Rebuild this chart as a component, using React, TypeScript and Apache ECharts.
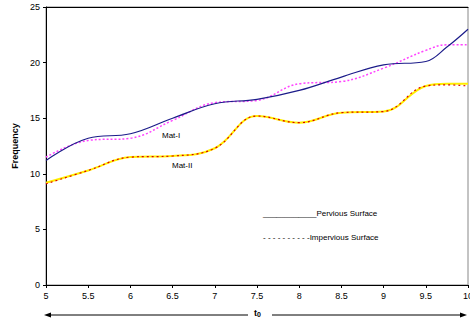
import React, { useEffect, useRef } from "react";
import * as echarts from "echarts";

const xs = [5, 5.5, 6, 6.5, 7, 7.5, 8, 8.5, 9, 9.5, 9.75, 10];
const matIPervious = [11.2, 13.2, 13.6, 15.0, 16.3, 16.7, 17.5, 18.7, 19.8, 20.1, 21.4, 23.0];
const matIImpervious = [11.5, 13.0, 13.2, 14.8, 16.4, 16.6, 18.1, 18.3, 19.5, 21.1, 21.6, 21.6];
const matIIPervious = [9.2, 10.3, 11.5, 11.6, 12.3, 15.2, 14.6, 15.5, 15.6, 17.9, 18.1, 18.1];
const matIIImpervious = [9.1, 10.3, 11.5, 11.6, 12.3, 15.2, 14.6, 15.5, 15.6, 17.9, 18.0, 17.9];
const xTicks = [5, 5.5, 6, 6.5, 7, 7.5, 8, 8.5, 9, 9.5, 10];

const pairs = (ys: number[]) => xs.map((x, i) => [x, ys[i]]);

export default function App() {
  const ref = useRef<HTMLDivElement>(null);
  useEffect(() => {
    const chart = echarts.init(ref.current!, null, { renderer: "svg" });
    const font = "Liberation Sans, Arial, sans-serif";
    chart.setOption({
      animation: false,
      grid: { left: 46, right: 2, top: 7, bottom: 37, show: true, borderColor: "#888", borderWidth: 1, outerBoundsMode: "none", containLabel: false },
      xAxis: [
        {
          type: "value", min: 5, max: 10, interval: 0.5,
          axisLine: { lineStyle: { color: "#000", width: 1 } },
          axisTick: { show: true, length: 3, lineStyle: { color: "#000" } },
          axisLabel: { color: "#000", fontSize: 9, fontFamily: font, margin: 6,
            formatter: (v: number) => (xTicks.includes(v) ? String(v) : "") },
          splitLine: { show: false },
        },
        {
          type: "value", min: 5, max: 10, position: "top",
          axisLine: { show: true, lineStyle: { color: "#000", width: 1 } },
          axisTick: { show: false }, axisLabel: { show: false }, splitLine: { show: false },
        },
      ],
      yAxis: {
        type: "value", min: 0, max: 25, interval: 5,
        name: "Frequency", nameLocation: "middle", nameGap: 22, nameRotate: 90,
        nameTextStyle: { fontSize: 9, fontWeight: "bold", fontFamily: font, color: "#000" },
        axisLine: { show: true, lineStyle: { color: "#000", width: 1 } },
        axisTick: { show: true, length: 3, lineStyle: { color: "#000" } },
        axisLabel: { color: "#000", fontSize: 9, fontFamily: font, margin: 6 },
        splitLine: { show: false },
      },
      series: [
        { type: "line", data: pairs(matIIPervious), smooth: 0.4, showSymbol: false,
          lineStyle: { color: "#ffee00", width: 2 }, z: 2 },
        { type: "line", data: pairs(matIIImpervious), smooth: 0.4, showSymbol: false,
          lineStyle: { color: "#dd0000", width: 1.2, type: [2, 3] }, z: 3 },
        { type: "line", data: pairs(matIImpervious), smooth: 0.4, showSymbol: false,
          lineStyle: { color: "#ff44ff", width: 1.5, type: [2, 2] }, z: 2 },
        { type: "line", data: pairs(matIPervious), smooth: 0.4, showSymbol: false,
          lineStyle: { color: "#1c1c8a", width: 1.2 }, z: 3 },
      ],
      graphic: [
        { type: "text", left: 162, top: 131, style: { text: "Mat-I", fontSize: 8, fontFamily: font, fill: "#000" } },
        { type: "text", left: 172, top: 161, style: { text: "Mat-II", fontSize: 8, fontFamily: font, fill: "#000" } },
        { type: "text", left: 263, top: 209, style: { text: "____________Pervious Surface", fontSize: 8, fontFamily: font, fill: "#000" } },
        { type: "text", left: 263, top: 233, style: { text: "- - - - - - - - - -Impervious Surface", fontSize: 8, fontFamily: font, fill: "#000" } },
        { type: "line", shape: { x1: 48, y1: 315, x2: 248, y2: 315 }, style: { stroke: "#000", lineWidth: 1 } },
        { type: "polygon", shape: { points: [[44, 315], [51, 312.5], [51, 317.5]] }, style: { fill: "#000" } },
        { type: "line", shape: { x1: 272, y1: 315, x2: 462, y2: 315 }, style: { stroke: "#000", lineWidth: 1 } },
        { type: "polygon", shape: { points: [[467, 315], [460, 312.5], [460, 317.5]] }, style: { fill: "#000" } },
        { type: "text", left: 254, top: 308, style: {
          text: "{t|t}{s|0}", fontFamily: font, fill: "#000",
          rich: { t: { fontSize: 9, fontWeight: "bold", fontFamily: font }, s: { fontSize: 7, fontWeight: "bold", fontFamily: font, verticalAlign: "bottom", padding: [4, 0, 0, 0] } } } },
      ],
    });
    return () => chart.dispose();
  }, []);
  return <div ref={ref} style={{ width: 470, height: 322, position: "absolute", left: 0, top: 0 }} />;
}
